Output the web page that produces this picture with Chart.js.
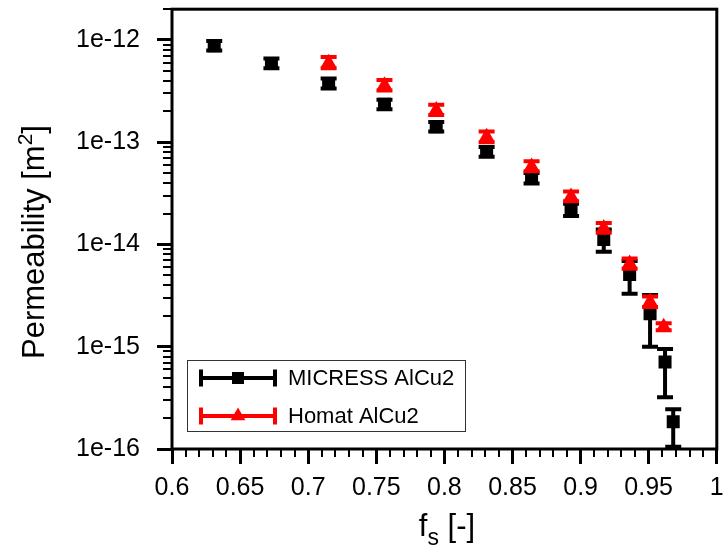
<!DOCTYPE html>
<html>
<head>
<meta charset="utf-8">
<script src="https://cdn.jsdelivr.net/npm/chart.js@4.4.1/dist/chart.umd.min.js"></script>
<style>
  html, body { margin: 0; padding: 0; background: #fff; }
  #wrap { width: 726px; height: 546px; }
</style>
</head>
<body>
<div id="wrap"><canvas id="chart" width="726" height="546"></canvas></div>
<script>
// MICRESS AlCu2 (black squares)
const micressFs = [0.631, 0.673, 0.715, 0.756, 0.794, 0.831, 0.864, 0.893, 0.917, 0.936, 0.951, 0.962, 0.968];
const micressK = [8.8e-13, 5.9e-13, 3.75e-13, 2.35e-13, 1.42e-13, 8.1e-14, 4.45e-14, 2.2e-14, 1.12e-14, 5.1e-15, 2.1e-15, 7.1e-16, 1.85e-16];
const micressKLow = [7.9e-13, 5.3e-13, 3.35e-13, 2.1e-13, 1.27e-13, 7.2e-14, 3.95e-14, 1.9e-14, 8.5e-15, 3.3e-15, 1.0e-15, 3.2e-16, 1.05e-16];
const micressKHigh = [9.8e-13, 6.6e-13, 4.2e-13, 2.6e-13, 1.58e-13, 9.0e-14, 5.0e-14, 2.5e-14, 1.4e-14, 6.9e-15, 3.2e-15, 9.5e-16, 2.45e-16];

// Homat AlCu2 (red triangles)
const homatFs = [0.715, 0.756, 0.794, 0.831, 0.864, 0.893, 0.917, 0.936, 0.951, 0.961];
const homatK = [6.0e-13, 3.6e-13, 2.07e-13, 1.13e-13, 5.8e-14, 2.95e-14, 1.45e-14, 6.5e-15, 2.75e-15, 1.57e-15];
const homatKLow = [5.3e-13, 3.2e-13, 1.85e-13, 1.0e-13, 5.2e-14, 2.65e-14, 1.3e-14, 5.8e-15, 2.45e-15, 1.45e-15];
const homatKHigh = [6.8e-13, 4.05e-13, 2.33e-13, 1.27e-13, 6.5e-14, 3.3e-14, 1.62e-14, 7.3e-15, 3.1e-15, 1.7e-15];

const seriesLabels = ['MICRESS AlCu2', 'Homat AlCu2'];
const xTicks = [0.6, 0.65, 0.7, 0.75, 0.8, 0.85, 0.9, 0.95, 1];
const yTicks = [1e-16, 1e-15, 1e-14, 1e-13, 1e-12];

const FONT = '"Liberation Sans", Arial, Helvetica, sans-serif';

function points(xs, ys, lo, hi) {
    return xs.map((x, i) => ({ x: x, y: ys[i], yMin: lo[i], yMax: hi[i] }));
}

// vertical error bars with caps, drawn right under each dataset's markers
const errorBars = {
    id: 'errorBars',
    beforeDatasetDraw(chart, args) {
        const ds = chart.data.datasets[args.index];
        const { x, y } = chart.scales;
        const area = chart.chartArea;
        const ctx = chart.ctx;
        ctx.save();
        ctx.beginPath();
        ctx.rect(area.left, area.top, area.right - area.left, area.bottom - area.top);
        ctx.clip();
        ctx.strokeStyle = ds.borderColor;
        ctx.lineWidth = 4;
        ds.data.forEach(p => {
            const px = x.getPixelForValue(p.x);
            const top = y.getPixelForValue(p.yMax);
            const bot = y.getPixelForValue(p.yMin);
            ctx.beginPath();
            ctx.moveTo(px, top); ctx.lineTo(px, bot);
            ctx.moveTo(px - 8, top); ctx.lineTo(px + 8, top);
            ctx.moveTo(px - 8, bot); ctx.lineTo(px + 8, bot);
            ctx.stroke();
        });
        ctx.restore();
    }
};

// frame and minor ticks
const frame = {
    id: 'frame',
    afterDraw(chart) {
        const { x, y } = chart.scales;
        const a = chart.chartArea;
        const ctx = chart.ctx;
        ctx.save();
        ctx.strokeStyle = '#000';
        ctx.lineWidth = 2;
        ctx.beginPath();
        for (let i = 1; i < 40; i++) {
            if (i % 5 === 0) continue;
            const px = Math.round(x.getPixelForValue(0.6 + i * 0.01));
            ctx.moveTo(px, a.bottom); ctx.lineTo(px, a.bottom + 8);
        }
        for (let e = -16; e <= -12; e++) {
            for (let m = 2; m <= 9; m++) {
                const v = m * Math.pow(10, e);
                if (v > y.max) continue;
                const py = Math.round(y.getPixelForValue(v));
                ctx.moveTo(a.left - 9, py); ctx.lineTo(a.left, py);
            }
        }
        ctx.stroke();
        ctx.lineWidth = 3;
        ctx.strokeRect(a.left, a.top, a.right - a.left, a.bottom - a.top);
        ctx.restore();
    }
};

function drawRich(ctx, parts, cx, baseline) {
    let total = 0;
    parts.forEach(p => { ctx.font = p.size + 'px ' + FONT; p.w = ctx.measureText(p.t).width; total += p.w; });
    let cur = cx - total / 2;
    parts.forEach(p => {
        ctx.font = p.size + 'px ' + FONT;
        ctx.fillText(p.t, cur, baseline + (p.dy || 0));
        cur += p.w;
    });
}

const titles = {
    id: 'titles',
    afterDraw(chart) {
        const ctx = chart.ctx;
        ctx.save();
        ctx.fillStyle = '#000';
        ctx.textAlign = 'left';
        ctx.textBaseline = 'alphabetic';
        drawRich(ctx, [
            { t: 'f', size: 31 },
            { t: 's', size: 23, dy: 9 },
            { t: ' [-]', size: 31 }
        ], 447, 536);
        ctx.translate(44, 242);
        ctx.rotate(-Math.PI / 2);
        drawRich(ctx, [
            { t: 'Permeability [m', size: 31 },
            { t: '2', size: 21, dy: -12 },
            { t: ']', size: 31 }
        ], 0, 0);
        ctx.restore();
    }
};

// legend box with error-bar samples
const legendBox = {
    id: 'legendBox',
    afterDraw(chart) {
        const ctx = chart.ctx;
        ctx.save();
        ctx.strokeStyle = '#333';
        ctx.lineWidth = 1;
        ctx.strokeRect(187.5, 360.5, 278, 71);
        const rows = [378, 416];
        chart.data.datasets.forEach((ds, i) => {
            const yy = rows[i];
            ctx.strokeStyle = ds.borderColor;
            ctx.fillStyle = ds.backgroundColor;
            ctx.lineWidth = 4;
            ctx.beginPath();
            ctx.moveTo(201, yy); ctx.lineTo(275, yy);
            ctx.moveTo(201, yy - 8.5); ctx.lineTo(201, yy + 8.5);
            ctx.moveTo(275, yy - 8.5); ctx.lineTo(275, yy + 8.5);
            ctx.stroke();
            Chart.helpers.drawPoint(ctx, {
                pointStyle: ds.pointStyle, radius: 8.5, borderWidth: 0
            }, 238, yy);
            ctx.fillStyle = '#000';
            ctx.font = '22px ' + FONT;
            ctx.textBaseline = 'middle';
            ctx.fillText(ds.label, 288, yy + 1);
        });
        ctx.restore();
    }
};

const ctx = document.getElementById('chart').getContext('2d');
const chart = new Chart(ctx, {
    type: 'scatter',
    data: {
        datasets: [
            {
                label: seriesLabels[0],
                data: points(micressFs, micressK, micressKLow, micressKHigh),
                pointStyle: 'rect',
                pointRadius: 9.2,
                backgroundColor: '#000000',
                borderColor: '#000000',
                borderWidth: 0,
                order: 1
            },
            {
                label: seriesLabels[1],
                data: points(homatFs, homatK, homatKLow, homatKHigh),
                pointStyle: 'triangle',
                pointRadius: 9,
                backgroundColor: '#ff0000',
                borderColor: '#ff0000',
                borderWidth: 0,
                order: 0
            }
        ]
    },
    options: {
        responsive: false,
        devicePixelRatio: 1,
        animation: false,
        events: [],
        layout: { padding: { top: 9, right: 6, left: 0, bottom: 0 } },
        plugins: {
            legend: { display: false },
            tooltip: { enabled: false }
        },
        scales: {
            x: {
                type: 'linear',
                min: 0.6,
                max: 1,
                afterBuildTicks: s => { s.ticks = xTicks.map(v => ({ value: v })); },
                afterFit: s => { s.height = 97; s.paddingLeft = 0; s.paddingRight = 0; },
                border: { display: false },
                grid: { drawOnChartArea: false, drawTicks: true, tickLength: 15, lineWidth: 3, color: '#000' },
                ticks: {
                    autoSkip: false,
                    maxRotation: 0,
                    padding: 9,
                    color: '#000',
                    font: { family: FONT, size: 25 },
                    callback: v => String(v)
                }
            },
            y: {
                type: 'logarithmic',
                min: 1e-16,
                max: 2e-12,
                afterBuildTicks: s => { s.ticks = yTicks.map(v => ({ value: v })); },
                afterFit: s => { s.width = 172; s.paddingTop = 0; s.paddingBottom = 0; },
                border: { display: false },
                grid: { drawOnChartArea: false, drawTicks: true, tickLength: 15, lineWidth: 3, color: '#000' },
                ticks: {
                    autoSkip: false,
                    padding: 17,
                    color: '#000',
                    font: { family: FONT, size: 25 },
                    callback: v => '1e' + Math.round(Math.log10(v))
                }
            }
        }
    },
    plugins: [errorBars, frame, titles, legendBox]
});
</script>
</body>
</html>
